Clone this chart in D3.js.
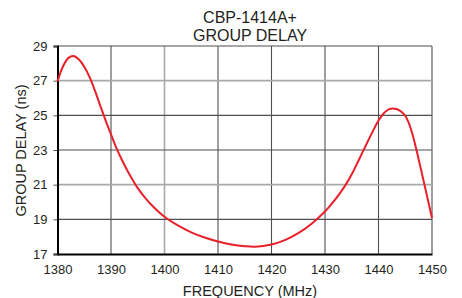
<!DOCTYPE html>
<html>
<head>
<meta charset="utf-8">
<script src="https://cdn.jsdelivr.net/npm/d3@7"></script>
<style>
  body { margin: 0; background: #fff; }
  text { font-family: "Liberation Sans", Arial, sans-serif; fill: #231f20; }
</style>
</head>
<body>
<svg id="chart"></svg>
<script>
// 曲线数据：频率 (MHz) 与群时延 (ns)
const freq = [1380, 1381, 1382, 1383, 1384, 1385, 1386, 1387, 1388, 1389, 1390, 1391, 1392, 1393, 1394, 1395, 1396.5, 1398, 1400, 1402.5, 1405, 1407.5, 1410, 1412.5, 1415, 1417, 1420, 1422.5, 1425, 1427.5, 1430, 1431, 1432, 1433, 1434, 1435, 1436, 1437, 1438, 1439, 1440, 1440.5, 1441, 1441.5, 1442, 1442.6, 1443.5, 1444.5, 1445, 1445.5, 1446, 1446.5, 1447, 1447.5, 1448, 1448.5, 1449, 1449.5, 1450];
const delay = [26.95, 27.8, 28.3, 28.42, 28.22, 27.8, 27.2, 26.42, 25.55, 24.7, 23.9, 23.12, 22.45, 21.85, 21.3, 20.8, 20.2, 19.7, 19.15, 18.65, 18.25, 17.95, 17.72, 17.55, 17.45, 17.42, 17.55, 17.8, 18.2, 18.75, 19.45, 19.8, 20.18, 20.6, 21.06, 21.6, 22.22, 22.86, 23.5, 24.12, 24.7, 24.93, 25.12, 25.26, 25.36, 25.4, 25.35, 25.15, 24.97, 24.68, 24.27, 23.74, 23.13, 22.47, 21.8, 21.12, 20.44, 19.76, 19.08];

// 刻度
const xTicks = [1380, 1390, 1400, 1410, 1420, 1430, 1440, 1450];
const yTicks = [17, 19, 21, 23, 25, 27, 29];
const lightX = [1400];
const lightY = [21, 27];

const titleLines = ["CBP-1414A+", "GROUP DELAY"];

const width = 462, height = 298;
const margin = { left: 57.5, right: 30, top: 46, bottom: 44 };

const svg = d3.select("#chart")
  .attr("width", width)
  .attr("height", height);

const x = d3.scaleLinear().domain([1380, 1450]).range([margin.left, width - margin.right]);
const y = d3.scaleLinear().domain([17, 29]).range([height - margin.bottom, margin.top]);

// 网格（含上边框、右边框）
svg.append("g")
  .selectAll("line")
  .data(xTicks.slice(1))
  .enter()
  .append("line")
  .attr("x1", d => x(d)).attr("x2", d => x(d))
  .attr("y1", y(29)).attr("y2", y(17))
  .attr("stroke", d => lightX.includes(d) ? "#a9a9a9" : "#4f4f4f")
  .attr("stroke-width", d => lightX.includes(d) ? 1.6 : 1.1);

svg.append("g")
  .selectAll("line")
  .data(yTicks.slice(1))
  .enter()
  .append("line")
  .attr("x1", x(1380)).attr("x2", x(1450))
  .attr("y1", d => y(d)).attr("y2", d => y(d))
  .attr("stroke", d => lightY.includes(d) ? "#a9a9a9" : "#4f4f4f")
  .attr("stroke-width", d => lightY.includes(d) ? 1.6 : 1.1);

// 坐标轴
const xAxis = svg.append("g")
  .attr("transform", `translate(0,${y(17)})`)
  .call(d3.axisBottom(x).tickValues(xTicks).tickFormat(d3.format("d")).tickSize(0).tickPadding(11));
xAxis.select(".domain").attr("stroke", "#000").attr("stroke-width", 2);
xAxis.selectAll("text").style("font-size", "13px").attr("fill", "#231f20");

const yAxis = svg.append("g")
  .attr("transform", `translate(${x(1380)},0)`)
  .call(d3.axisLeft(y).tickValues(yTicks).tickSize(4).tickPadding(6));
yAxis.select(".domain").attr("stroke", "#000").attr("stroke-width", 2);
yAxis.selectAll(".tick line").attr("stroke", "#4f4f4f");
yAxis.selectAll("text").style("font-size", "13px").attr("fill", "#231f20");

// 曲线
const line = d3.line()
  .x((d, i) => x(freq[i]))
  .y(d => y(d))
  .curve(d3.curveCatmullRom.alpha(0.5));

svg.append("path")
  .datum(delay)
  .attr("d", line)
  .attr("fill", "none")
  .attr("stroke", "#e8202a")
  .attr("stroke-width", 2);

// 标题
svg.append("g")
  .selectAll("text")
  .data(titleLines)
  .enter()
  .append("text")
  .attr("x", 250)
  .attr("y", (d, i) => 23.3 + i * 17.4)
  .attr("text-anchor", "middle")
  .style("font-size", "16px")
  .text(d => d);

svg.append("text")
  .attr("x", 250)
  .attr("y", 296)
  .attr("text-anchor", "middle")
  .style("font-size", "14.5px")
  .text("FREQUENCY (MHz)");

svg.append("text")
  .attr("transform", "translate(25.5,150.5) rotate(-90)")
  .attr("text-anchor", "middle")
  .style("font-size", "14.5px")
  .text("GROUP DELAY (ns)");
</script>
</body>
</html>
